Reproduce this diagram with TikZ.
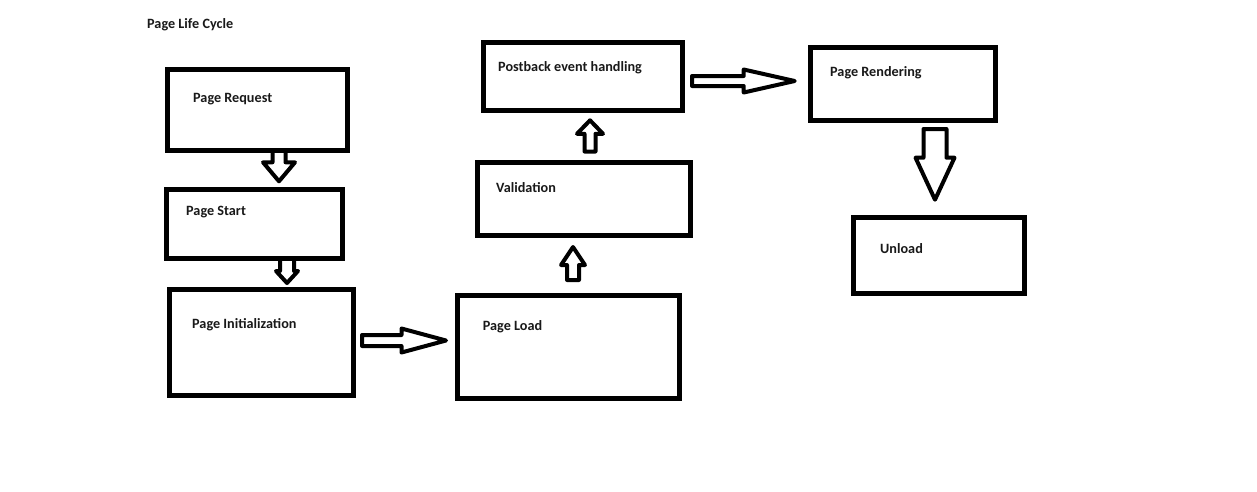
\documentclass[tikz,border=0pt]{standalone}
\usepackage{fontspec}
\setmainfont{Carlito}
\usetikzlibrary{calc}
\tikzset{
  box/.style={draw=black, line width=5pt, rectangle, inner sep=0pt, outer sep=0pt, anchor=north west},
  lbl/.style={anchor=base west, inner sep=0pt, font=\bfseries\fontsize{14.2}{17}\selectfont, text=black!90},
  barrow/.style={draw=black, line width=4pt, line join=round}
}
% #1 start, #2 tip, #3 half shaft, #4 half head, #5 head length
\newcommand\blkarr[5]{%
  \draw[barrow] ($(#1)!#3!90:(#2)$)
    -- ($(#2)!#5!(#1)!#3!-90:(#1)$)
    -- ($(#2)!#5!(#1)!#4!-90:(#1)$)
    -- (#2)
    -- ($(#2)!#5!(#1)!#4!90:(#1)$)
    -- ($(#2)!#5!(#1)!#3!90:(#1)$)
    -- ($(#1)!#3!-90:(#2)$) -- cycle;}
\begin{document}
\begin{tikzpicture}[x=1pt, y=-1pt]
\useasboundingbox[fill=white] (0,0) rectangle (1257,491);

% boxes
\node[box, minimum width=180pt, minimum height=81pt] (req) at (167.5,69.5) {};
\node[box, minimum width=176pt, minimum height=69pt] (pstart) at (166.5,189.5) {};
\node[box, minimum width=184pt, minimum height=106pt] (init) at (169.5,289.5) {};
\node[box, minimum width=222pt, minimum height=103pt] (load) at (457.5,295.5) {};
\node[box, minimum width=213pt, minimum height=73pt] (valid) at (477.5,162.5) {};
\node[box, minimum width=199pt, minimum height=68pt] (post) at (483.5,42.5) {};
\node[box, minimum width=185pt, minimum height=73pt] (render) at (810.5,47.5) {};
\node[box, minimum width=171pt, minimum height=76pt] (unload) at (853.5,217.5) {};

% labels
\node[lbl] (title) at (147,28.3) {Page Life Cycle};
\node[lbl] (treq) at (193,102.7) {Page Request};
\node[lbl] (tstart) at (186,215) {Page Start};
\node[lbl] (tinit) at (192,328.3) {Page Initialization};
\node[lbl] (tload) at (482.7,330) {Page Load};
\node[lbl] (tvalid) at (496,192.7) {Validation};
\node[lbl] (tpost) at (498,71.7) {Postback event handling};
\node[lbl] (trender) at (830,76.7) {Page Rendering};
\node[lbl] (tunload) at (880,253.3) {Unload};

% arrow end points
\coordinate (a1s) at (279,0 |- req.south);
\coordinate (a1e) at (279,181.3);
\coordinate (a2s) at (287,0 |- pstart.south);
\coordinate (a2e) at (287,283);
\coordinate (a3s) at (362,340.5);
\coordinate (a3e) at (446,340.5);
\coordinate (a4s) at (573,280);
\coordinate (a4e) at (573,247);
\coordinate (a5s) at (590,151.5);
\coordinate (a5e) at (590,120.3);
\coordinate (a6s) at (692,81);
\coordinate (a6e) at (794.7,81);
\coordinate (a7s) at (935,129);
\coordinate (a7e) at (935,199.7);

\blkarr{a1s}{a1e}{6.5pt}{16pt}{19pt}
\blkarr{a2s}{a2e}{7pt}{11pt}{12pt}
\blkarr{a3s}{a3e}{5.5pt}{12pt}{44.5pt}
\blkarr{a4s}{a4e}{6pt}{12pt}{18pt}
\blkarr{a5s}{a5e}{5.5pt}{13pt}{13.5pt}
\blkarr{a6s}{a6e}{5pt}{11.5pt}{51pt}
\blkarr{a7s}{a7e}{11.5pt}{19.5pt}{42pt}
\end{tikzpicture}
\end{document}
